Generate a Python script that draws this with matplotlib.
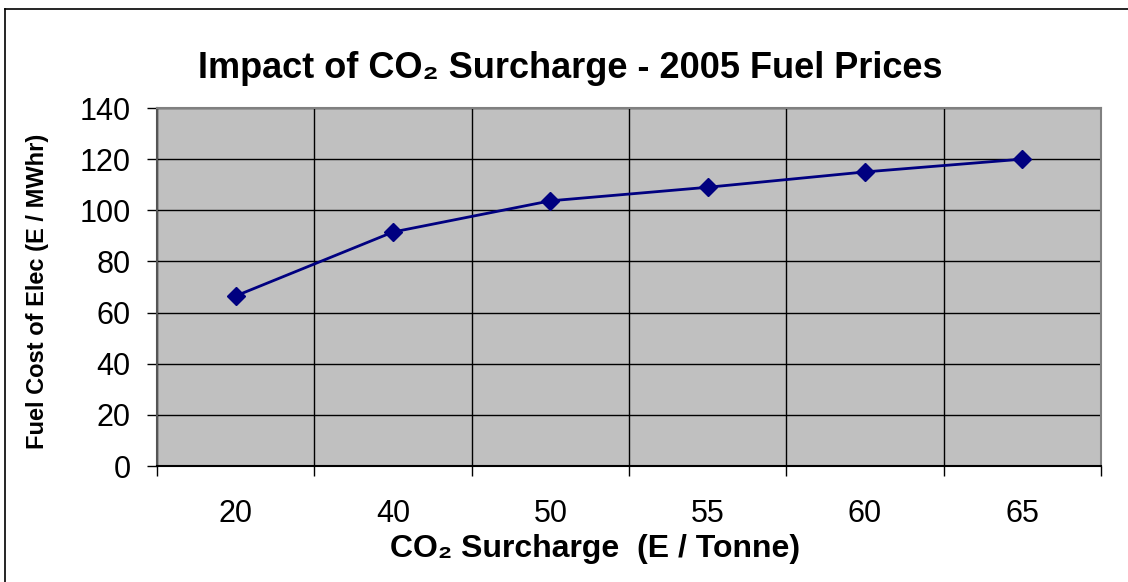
import matplotlib
matplotlib.use("Agg")
import matplotlib.pyplot as plt
from matplotlib.lines import Line2D

# chart data
surcharge = ["20", "40", "50", "55", "60", "65"]
fuel_cost = [66.5, 91.5, 103.7, 109.0, 115.0, 120.0]
y_ticks = [0, 20, 40, 60, 80, 100, 120, 140]

fam = ["Liberation Sans", "DejaVu Sans"]
plt.rcParams["font.family"] = fam

fig = plt.figure(figsize=(11.28, 5.82), dpi=100)
ax = fig.add_axes([157 / 1128, 1 - 466 / 582, (1101 - 157) / 1128, (466 - 108) / 582])
ax.set_facecolor("#C0C0C0")

x = list(range(len(surcharge)))
ax.plot(x, fuel_cost, color="#000080", lw=2, marker="D", markersize=9.5,
        markeredgecolor="#000080", zorder=3)

ax.set_xlim(-0.5, len(surcharge) - 0.5)
ax.set_ylim(0, 140)

# gridlines at category boundaries and y ticks
ax.set_xticks(x)
ax.set_xticklabels(surcharge, fontsize=22)
ax.set_xticks([i + 0.5 for i in range(-1, len(surcharge))], minor=True)
ax.tick_params(axis="x", which="major", length=0, pad=24)
ax.tick_params(axis="x", which="minor", length=7, color="black", width=1, direction="out")
ax.grid(True, axis="x", which="minor", color="black", lw=1)
ax.set_yticks(y_ticks)
ax.tick_params(axis="y", labelsize=22, length=7, width=1, pad=12)
ax.grid(True, axis="y", which="major", color="black", lw=1)
ax.set_axisbelow(True)

for s in ax.spines.values():
    s.set_color("#808080")
    s.set_linewidth(1.5)
ax.spines["bottom"].set_color("black")
ax.spines["left"].set_color("#555555")

fig.text(570 / 1128, 1 - 68 / 582, "Impact of CO\u2082 Surcharge - 2005 Fuel Prices",
         ha="center", va="center", fontsize=26, fontweight="bold", family=fam)
fig.text(595 / 1128, 1 - 549 / 582, "CO\u2082 Surcharge  (E / Tonne)",
         ha="center", va="center", fontsize=23, fontweight="bold", family=fam)
fig.text(38 / 1128, 1 - 291 / 582, "Fuel Cost of Elec (E / MWhr)",
         ha="center", va="center", rotation=90, fontsize=17, fontweight="bold", family=fam)

# outer chart frame (left and top edges visible)
fig.add_artist(Line2D([5 / 1128, 5 / 1128], [0, 1 - 9 / 582], color="black", lw=1.2,
                      transform=fig.transFigure))
fig.add_artist(Line2D([5 / 1128, 1], [1 - 9 / 582, 1 - 9 / 582], color="black", lw=1.2,
                      transform=fig.transFigure))

fig.savefig("out.png", dpi=100)
